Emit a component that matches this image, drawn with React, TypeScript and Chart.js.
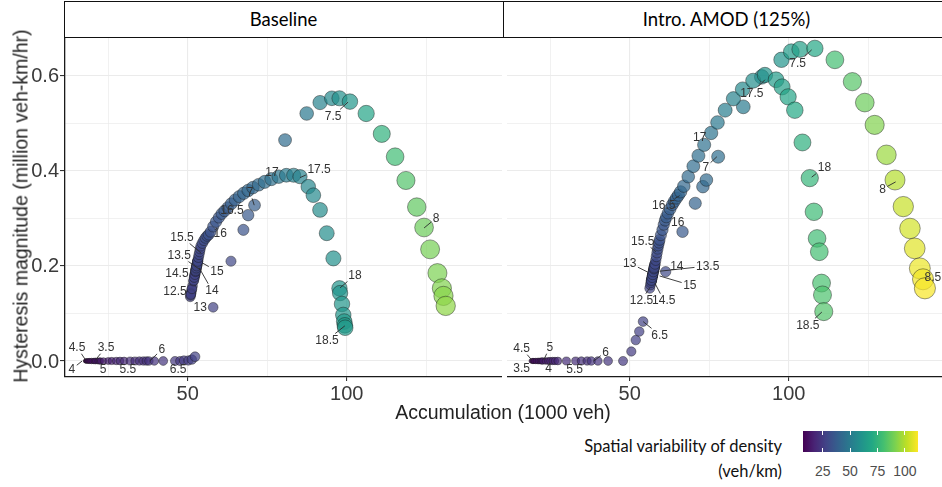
import React, { useEffect, useRef } from "react";
import { Chart, registerables } from "chart.js";

Chart.register(...registerables);

// ---------- axis domains & ticks ----------
const accumulationRange = [11.42, 148.8];
const hysteresisRange = [-0.0337, 0.682];
const spatialRange = [7, 112];

const accumulationTicks = [25, 50, 75, 100, 125];
const accumulationTickLabels = ["", "50", "", "100", ""];
const hysteresisTicks = [0, 0.1, 0.2, 0.3, 0.4, 0.5, 0.6];
const hysteresisTickLabels = ["0.0", "", "0.2", "", "0.4", "", "0.6"];
const legendTicks = [25, 50, 75, 100];
const panelTitles = ["Baseline", "Intro. AMOD (125%)"];

// ---------- Baseline (1000 veh, million veh-km/hr, veh/km) ----------
const baselineAccum = [
  // 03:30-06:30
  21.0, 20.3, 19.6, 19.0, 18.5, 18.1, 17.9, 17.8, 18.0, 18.2, 18.5, 18.8,
  19.2, 19.8, 20.5, 21.0, 21.7, 22.2, 22.6, 23.5, 25.0, 26.1, 27.5, 28.7,
  30.0, 31.9, 33.4, 34.8, 36.0, 37.0, 37.8, 39.5, 42.3, 46.0, 47.6, 48.8, 50.2,
  // 06:35-07:30
  51.3, 52.3, 58.0, 63.6, 67.5, 69.0, 71.0, 80.6, 87.4, 91.6, 95.3, 97.7, 101.0,
  // 07:35-08:25
  106.1, 111.0, 115.2, 118.6, 122.0, 124.3, 126.2, 128.5, 129.9, 130.4, 131.1,
  // 12:30-15:30
  50.80, 51.11, 51.51, 51.27, 51.02, 50.89, 50.96, 51.33, 51.82, 52.26, 52.69, 52.51,
  52.82, 53.13, 52.88, 52.57, 52.26, 52.07, 51.89, 52.07, 52.26, 52.44, 52.57, 52.63,
  52.51, 52.69, 52.88, 53.06, 53.19, 53.00, 52.82, 53.13, 53.37, 53.56, 53.75, 53.93, 54.12,
  // 15:35-17:30
  54.6, 55.1, 55.6, 56.1, 56.6, 57.2,
  58.0, 58.9, 59.8, 60.7, 61.6, 62.6,
  63.7, 64.9, 66.2, 67.6, 69.0, 70.5,
  72.3, 74.2, 76.3, 78.6, 81.0, 83.3, 85.3,
  // 17:35-18:30
  87.9, 89.5, 91.6, 93.7, 95.8, 97.7, 97.9, 98.5, 98.9, 99.2, 99.4, 99.5,
];
const baselineHyst = [
  0, 0, 0, 0, 0, 0, 0, 0, 0, 0, 0, 0,
  0, 0, 0, 0, 0, 0, 0, 0, 0, 0, 0, 0,
  0, 0, 0, 0, 0, 0, 0, 0, 0, 0, 0, 0.001, 0.001,
  0.003, 0.009, 0.113, 0.21, 0.276, 0.307, 0.328, 0.465, 0.521, 0.544, 0.553, 0.553, 0.546,
  0.521, 0.478, 0.43, 0.38, 0.324, 0.281, 0.235, 0.185, 0.153, 0.137, 0.116,
  0.135, 0.145, 0.158, 0.150, 0.142, 0.138, 0.140, 0.152, 0.168, 0.182, 0.196, 0.190,
  0.200, 0.210, 0.202, 0.192, 0.182, 0.176, 0.170, 0.176, 0.182, 0.188, 0.192, 0.194,
  0.190, 0.196, 0.202, 0.208, 0.212, 0.206, 0.200, 0.210, 0.218, 0.224, 0.230, 0.236, 0.242,
  0.248, 0.254, 0.259, 0.263, 0.266, 0.272,
  0.283, 0.293, 0.302, 0.310, 0.316, 0.323,
  0.331, 0.339, 0.346, 0.353, 0.359, 0.365,
  0.371, 0.377, 0.383, 0.388, 0.391, 0.391, 0.388,
  0.367, 0.349, 0.318, 0.269, 0.216, 0.153, 0.143, 0.12, 0.097, 0.083, 0.075, 0.070,
];
const baselineSpatial = [
  10, 10, 9, 9, 8, 8, 8, 8, 9, 9, 10, 10,
  11, 12, 12, 13, 13, 14, 14, 15, 16, 17, 18, 19,
  19, 20, 20, 21, 21, 22, 22, 22, 23, 24, 24, 25, 25,
  26, 27, 27, 29, 34, 36, 38, 44, 49, 53, 56, 59, 62,
  68, 74, 79, 83, 86, 88, 90, 91, 92, 93, 94,
  27, 27, 27, 27, 27, 27, 27, 27, 27, 27, 27, 27,
  28, 28, 28, 28, 28, 28, 28, 28, 28, 28, 28, 28,
  29, 29, 29, 29, 29, 29, 29, 29, 29, 29, 29, 29, 29,
  31, 31, 32, 32, 33, 33,
  34, 35, 35, 36, 37, 37,
  38, 39, 40, 41, 42, 42,
  43, 45, 46, 48, 50, 52, 53,
  55, 56, 57, 58, 59, 61, 61, 62, 62, 63, 63, 63,
];
const baselineLabelText = ["4.5", "3.5", "4", "5", "5.5", "6", "6.5", "7", "7.5", "8", "12.5", "13", "13.5", "14", "14.5", "15", "15.5", "16", "16.5", "17", "17.5", "18", "18.5"];
const baselineLabelX = [15.2, 24.3, 13.6, 23.4, 31.2, 41.9, 47.0, 69.6, 95.7, 128.1, 46.0, 53.9, 47.3, 57.6, 46.6, 59.2, 48.2, 60.2, 63.9, 76.5, 91.3, 102.6, 93.8];
const baselineLabelY = [0.029, 0.029, -0.017, -0.017, -0.017, 0.025, -0.017, 0.356, 0.516, 0.301, 0.146, 0.114, 0.223, 0.149, 0.185, 0.189, 0.261, 0.269, 0.318, 0.398, 0.404, 0.181, 0.044];
const baselinePointX = [17.7, 21.2, 16.8, 22.6, 30.0, 38.1, 49.2, 70.9, 100.4, 124.3, 50.8, 51.7, 53.9, 53.6, 51.7, 54.7, 54.2, 56.6, 63.9, 80.3, 85.3, 97.9, 99.4];
const baselinePointY = [0.004, 0.004, 0, 0, 0, 0, 0, 0.328, 0.545, 0.28, 0.135, 0.133, 0.192, 0.196, 0.181, 0.206, 0.227, 0.258, 0.318, 0.39, 0.386, 0.154, 0.074];

// ---------- Intro. AMOD (125%) ----------
const amodAccum = [
  // 03:30-06:30
  19.0, 19.6, 20.3, 21.0, 21.5, 21.8, 22.0, 21.5, 21.0, 20.5, 20.0, 19.6,
  19.4, 19.8, 20.5, 21.2, 21.8, 22.3, 22.7, 23.5, 24.3, 25.0, 25.8, 26.5,
  27.4, 30.1, 33.0, 34.8, 36.6, 37.9, 40.0, 43.2, 47.9, 50.5, 51.9, 53.0, 54.2,
  // 06:35-07:30
  61.3, 66.6, 70.6, 73.0, 74.1, 77.8, 85.7, 91.5, 97.7, 100.8, 103.5, 108.2,
  // 07:35-08:30
  114.5, 120.0, 123.9, 127.0, 130.7, 133.4, 136.0, 138.1, 139.6, 141.2, 142.2, 142.8,
  // 12:30-15:00
  56.30, 56.52, 56.84, 57.16, 57.00, 56.78, 56.91, 57.16, 57.48, 57.36, 57.16, 57.29,
  57.48, 57.68, 57.55, 57.36, 57.16, 57.04, 56.84, 56.68, 56.84, 57.04, 57.23, 57.42,
  57.61, 57.74, 57.93, 57.80, 57.68, 57.93, 58.19,
  // 15:05-17:30
  58.4, 58.6, 58.8, 59.0, 59.2, 59.4,
  59.8, 60.3, 60.7, 61.1, 61.5, 62.0,
  62.7, 63.4, 64.0, 64.7, 65.3, 66.0,
  67.0, 68.4, 70.0, 71.6, 73.4, 75.6,
  77.6, 80.0, 82.6, 85.5, 88.8, 92.5,
  // 17:35-18:30
  96.0, 97.9, 99.8, 101.9, 104.3, 106.6,
  107.9, 108.9, 109.6, 110.3, 110.6, 111.0,
];
const amodHyst = [
  0, 0, 0, 0, 0, 0, 0, 0, 0, 0, 0, 0,
  0, 0, 0, 0, 0, 0, 0, 0, 0, 0, 0, 0,
  0, 0, 0, 0, 0, 0, 0, 0, 0, 0.02, 0.044, 0.062, 0.083,
  0.188, 0.272, 0.332, 0.367, 0.381, 0.43, 0.535, 0.598, 0.634, 0.651, 0.656, 0.658,
  0.634, 0.588, 0.544, 0.497, 0.434, 0.381, 0.325, 0.279, 0.237, 0.195, 0.172, 0.153,
  0.153, 0.160, 0.170, 0.180, 0.175, 0.168, 0.172, 0.180, 0.190, 0.186, 0.180, 0.184,
  0.190, 0.196, 0.192, 0.186, 0.180, 0.176, 0.170, 0.165, 0.170, 0.176, 0.182, 0.188,
  0.194, 0.198, 0.204, 0.200, 0.196, 0.204, 0.212,
  0.22, 0.228, 0.236, 0.243, 0.249, 0.255,
  0.265, 0.276, 0.287, 0.296, 0.303, 0.311,
  0.320, 0.329, 0.336, 0.343, 0.349, 0.356,
  0.368, 0.388, 0.41, 0.432, 0.455, 0.48,
  0.502, 0.528, 0.552, 0.572, 0.59, 0.602,
  0.592, 0.577, 0.556, 0.528, 0.46, 0.385,
  0.314, 0.258, 0.23, 0.164, 0.139, 0.104,
];
const amodSpatial = [
  9, 9, 8, 8, 8, 8, 8, 9, 9, 9, 10, 10,
  11, 11, 12, 13, 13, 14, 15, 15, 16, 17, 18, 18,
  19, 20, 20, 21, 21, 22, 22, 23, 24, 25, 26, 26, 27,
  30, 36, 40, 42, 43, 45, 50, 55, 61, 64, 66, 69,
  80, 84, 88, 92, 96, 100, 103, 105, 107, 109, 110, 111,
  28, 28, 28, 28, 28, 28, 28, 28, 28, 28, 29, 29,
  29, 29, 29, 29, 29, 29, 29, 29, 30, 30, 30, 30,
  30, 30, 30, 30, 30, 30, 30,
  31, 31, 32, 32, 33, 33,
  34, 35, 35, 36, 37, 37,
  38, 38, 39, 40, 40, 41,
  42, 43, 44, 45, 46, 47,
  49, 51, 53, 56, 58, 61,
  64, 66, 68, 70, 73, 76,
  78, 79, 80, 81, 82, 83,
];
const amodLabelText = ["3.5", "4.5", "4", "5", "5.5", "6", "6.5", "7", "7.5", "8", "8.5", "12.5", "13", "13.5", "14", "14.5", "15", "15.5", "16", "16.5", "17", "17.5", "18", "18.5"];
const amodLabelX = [16.04, 16.04, 24.5, 24.85, 32.7, 42.45, 59.4, 73.9, 102.8, 129.5, 145.3, 53.7, 50.0, 74.5, 64.8, 60.7, 68.9, 54.1, 65.1, 60.7, 72.0, 88.4, 111.2, 106.0];
const amodLabelY = [-0.015, 0.027, -0.015, 0.029, -0.017, 0.019, 0.055, 0.408, 0.627, 0.362, 0.177, 0.128, 0.206, 0.2, 0.2, 0.128, 0.16, 0.253, 0.293, 0.328, 0.472, 0.564, 0.408, 0.076];
const amodPointX = [17.9, 19.2, 23.2, 22.96, 32.7, 38.7, 54.2, 77.4, 107.2, 133.6, 142.9, 56.3, 55.7, 59.4, 61.3, 57.9, 59.4, 58.2, 62.5, 65.7, 75.8, 92.5, 107.2, 110.4];
const amodPointY = [0, 0.002, 0, 0.002, 0, 0, 0.083, 0.43, 0.655, 0.377, 0.164, 0.154, 0.187, 0.189, 0.19, 0.164, 0.179, 0.23, 0.31, 0.348, 0.491, 0.592, 0.387, 0.103];

// ---------- colour & size scales ----------
const viridisStops = ["#440154", "#482475", "#414487", "#355f8d", "#2a788e", "#21918c", "#22a884", "#44bf70", "#7ad151", "#bddf26", "#fde725"];
function hexRgb(h: string) {
  return [parseInt(h.slice(1, 3), 16), parseInt(h.slice(3, 5), 16), parseInt(h.slice(5, 7), 16)];
}
function viridis(v: number, alpha = 1) {
  let t = (v - spatialRange[0]) / (spatialRange[1] - spatialRange[0]);
  t = Math.max(0, Math.min(1, t));
  const p = t * (viridisStops.length - 1);
  const i = Math.min(Math.floor(p), viridisStops.length - 2);
  const f = p - i;
  const a = hexRgb(viridisStops[i]);
  const b = hexRgb(viridisStops[i + 1]);
  const c = a.map((x, k) => Math.round(x + (b[k] - x) * f));
  return `rgba(${c[0]},${c[1]},${c[2]},${alpha})`;
}
function sizeScale(v: number) {
  return Math.sqrt(Math.max(2, 1.05 * v - 4.7));
}

const AXIS_FONT = "'Liberation Sans', Arial, sans-serif";
const TEXT_DARK = "#3a3a3a";

// y-axis tick labels drawn from the y scale (keeps Chart.js from padding the chart area)
function yTickLabelPlugin(show: boolean) {
  return {
    id: "yTickLabels",
    afterDraw(chart: any) {
      if (!show) return;
      const { ctx, scales } = chart;
      const ys = scales.y;
      ctx.save();
      ctx.font = `20px ${AXIS_FONT}`;
      ctx.fillStyle = TEXT_DARK;
      ctx.textAlign = "right";
      ctx.textBaseline = "middle";
      hysteresisTicks.forEach((t, i) => {
        if (hysteresisTickLabels[i]) ctx.fillText(hysteresisTickLabels[i], ys.right - 6, ys.getPixelForValue(t) + 1);
      });
      ctx.restore();
    },
  };
}

function labelPlugin(texts: string[], lx: number[], ly: number[], tx: number[], ty: number[]) {
  return {
    id: "repelLabels",
    afterDatasetsDraw(chart: any) {
      const { ctx, scales } = chart;
      const xs = scales.x;
      const ys = scales.y;
      ctx.save();
      ctx.font = `12px ${AXIS_FONT}`;
      ctx.textAlign = "center";
      ctx.textBaseline = "middle";
      for (let i = 0; i < texts.length; i++) {
        const Lx = xs.getPixelForValue(lx[i]);
        const Ly = ys.getPixelForValue(ly[i]);
        const Tx = xs.getPixelForValue(tx[i]);
        const Ty = ys.getPixelForValue(ty[i]);
        const w = ctx.measureText(texts[i]).width;
        const hw = w / 2 + 1.5;
        const hh = 6.5;
        const ux = Tx - Lx;
        const uy = Ty - Ly;
        const s = Math.min(ux ? hw / Math.abs(ux) : Infinity, uy ? hh / Math.abs(uy) : Infinity);
        if (s < 1) {
          const ex = Lx + ux * s;
          const ey = Ly + uy * s;
          if (Math.hypot(Tx - ex, Ty - ey) > 5) {
            ctx.strokeStyle = "#2b2b2b";
            ctx.lineWidth = 0.9;
            ctx.beginPath();
            ctx.moveTo(Tx, Ty);
            ctx.lineTo(ex, ey);
            ctx.stroke();
          }
        }
        ctx.fillStyle = "#333";
        ctx.fillText(texts[i], Lx, Ly + 0.5);
      }
      ctx.restore();
    },
  };
}

function makeConfig(
  accum: number[], hyst: number[], spatial: number[],
  lt: string[], lx: number[], ly: number[], px: number[], py: number[],
  showY: boolean
): any {
  const majorX = (v: number) => accumulationTicks.includes(v) && accumulationTickLabels[accumulationTicks.indexOf(v)] !== "";
  const yIdx = (v: number) => hysteresisTicks.findIndex((t) => Math.abs(t - v) < 1e-9);
  const majorY = (v: number) => { const i = yIdx(v); return i >= 0 && hysteresisTickLabels[i] !== ""; };
  return {
    type: "scatter",
    data: {
      datasets: [
        {
          data: accum.map((a, i) => ({ x: a, y: hyst[i] })),
          pointRadius: (c: any) => sizeScale(spatial[c.dataIndex]),
          pointHoverRadius: (c: any) => sizeScale(spatial[c.dataIndex]),
          pointBackgroundColor: (c: any) => viridis(spatial[c.dataIndex], 0.7),
          pointBorderColor: "rgba(25,25,25,0.55)",
          pointBorderWidth: 0.8,
          showLine: false,
          clip: false,
        },
      ],
    },
    options: {
      responsive: false,
      animation: false,
      events: [],
      layout: { padding: 0, autoPadding: false },
      plugins: { legend: { display: false }, tooltip: { enabled: false } },
      scales: {
        x: {
          type: "linear",
          min: accumulationRange[0],
          max: accumulationRange[1],
          afterBuildTicks: (s: any) => { s.ticks = accumulationTicks.map((v) => ({ value: v })); },
          afterFit: (s: any) => { s.height = 30; },
          ticks: {
            autoSkip: false,
            maxRotation: 0,
            padding: 1,
            color: TEXT_DARK,
            font: { family: AXIS_FONT, size: 20 },
            callback: (v: number) => { const i = accumulationTicks.indexOf(v); return i >= 0 ? accumulationTickLabels[i] : ""; },
          },
          grid: {
            color: "#ebebeb",
            lineWidth: (c: any) => (c.tick && majorX(c.tick.value) ? 1.1 : 0.7),
            tickLength: 4,
            tickColor: (c: any) => (c.tick && majorX(c.tick.value) ? "#333" : "rgba(0,0,0,0)"),
          },
          border: { display: true, color: "#1a1a1a", width: 1.3 },
        },
        y: {
          type: "linear",
          min: hysteresisRange[0],
          max: hysteresisRange[1],
          afterBuildTicks: (s: any) => { s.ticks = hysteresisTicks.map((v) => ({ value: v })); },
          afterFit: (s: any) => { s.width = showY ? 65 : 0; },
          ticks: { display: false },
          grid: {
            color: "#ebebeb",
            lineWidth: (c: any) => (c.tick && majorY(c.tick.value) ? 1.1 : 0.7),
            drawTicks: showY,
            tickLength: 5,
            tickColor: (c: any) => (c.tick && majorY(c.tick.value) ? "#333" : "rgba(0,0,0,0)"),
          },
          border: { display: showY, color: "#1a1a1a", width: 1.3 },
        },
      },
    },
    plugins: [labelPlugin(lt, lx, ly, px, py), yTickLabelPlugin(showY)],
  };
}

const legendLeft = 803;
const legendWidth = 115;
const legendPos = (v: number) => legendLeft + ((v - spatialRange[0]) / (spatialRange[1] - spatialRange[0])) * legendWidth;

export default function App() {
  const leftRef = useRef<HTMLCanvasElement>(null);
  const rightRef = useRef<HTMLCanvasElement>(null);

  useEffect(() => {
    const a = new Chart(
      leftRef.current as HTMLCanvasElement,
      makeConfig(baselineAccum, baselineHyst, baselineSpatial, baselineLabelText, baselineLabelX, baselineLabelY, baselinePointX, baselinePointY, true)
    );
    const b = new Chart(
      rightRef.current as HTMLCanvasElement,
      makeConfig(amodAccum, amodHyst, amodSpatial, amodLabelText, amodLabelX, amodLabelY, amodPointX, amodPointY, false)
    );
    return () => { a.destroy(); b.destroy(); };
  }, []);

  const gradient = `linear-gradient(to right, ${viridisStops.join(", ")})`;
  const stripFont = "Lato, 'Open Sans', sans-serif";

  return (
    <div style={{ position: "absolute", left: 0, top: 0, width: 942, height: 487, overflow: "hidden", background: "#fff", fontFamily: AXIS_FONT }}>
      <canvas ref={leftRef} width={502} height={370} style={{ position: "absolute", left: 0, top: 37 }} />
      <canvas ref={rightRef} width={437} height={370} style={{ position: "absolute", left: 507, top: 37 }} />

      {/* facet strips */}
      <div style={{ position: "absolute", left: 64, top: 1, width: 890, height: 37, border: "1.5px solid #111", boxSizing: "border-box", background: "#fff" }} />
      <div style={{ position: "absolute", left: 502.5, top: 1, width: 1.5, height: 37, background: "#111" }} />
      <div style={{ position: "absolute", left: 64, top: 1, width: 439, height: 36, display: "flex", alignItems: "center", justifyContent: "center", fontFamily: stripFont, fontSize: 18.5, color: "#000" }}>{panelTitles[0]}</div>
      <div style={{ position: "absolute", left: 503, top: 1, width: 447, height: 36, display: "flex", alignItems: "center", justifyContent: "center", fontFamily: stripFont, fontSize: 18.5, color: "#000" }}>{panelTitles[1]}</div>

      {/* axis titles */}
      <div style={{ position: "absolute", left: 21, top: 206, transform: "translate(-50%, -50%) rotate(-90deg)", whiteSpace: "nowrap", fontSize: 19.5, color: "#222" }}>
        Hysteresis magnitude (million veh-km/hr)
      </div>
      <div style={{ position: "absolute", left: 503, top: 412, transform: "translate(-50%, -50%)", whiteSpace: "nowrap", fontSize: 19.5, color: "#222" }}>
        Accumulation (1000 veh)
      </div>

      {/* colour legend */}
      <div style={{ position: "absolute", left: 480, top: 434, width: 302, textAlign: "right", fontFamily: stripFont, fontSize: 16.5, lineHeight: "25px", color: "#111" }}>
        <div>Spatial variability of density</div>
        <div>(veh/km)</div>
      </div>
      <div style={{ position: "absolute", left: legendLeft, top: 431, width: legendWidth, height: 21, background: gradient }} />
      {legendTicks.map((t) => (
        <React.Fragment key={t}>
          <div style={{ position: "absolute", left: legendPos(t) - 0.5, top: 431, width: 1, height: 4, background: "#fff" }} />
          <div style={{ position: "absolute", left: legendPos(t) - 0.5, top: 448, width: 1, height: 4, background: "#fff" }} />
          <div style={{ position: "absolute", left: legendPos(t), top: 471, transform: "translate(-50%, -50%)", fontSize: 14, color: "#4d4d4d" }}>{t}</div>
        </React.Fragment>
      ))}
    </div>
  );
}
